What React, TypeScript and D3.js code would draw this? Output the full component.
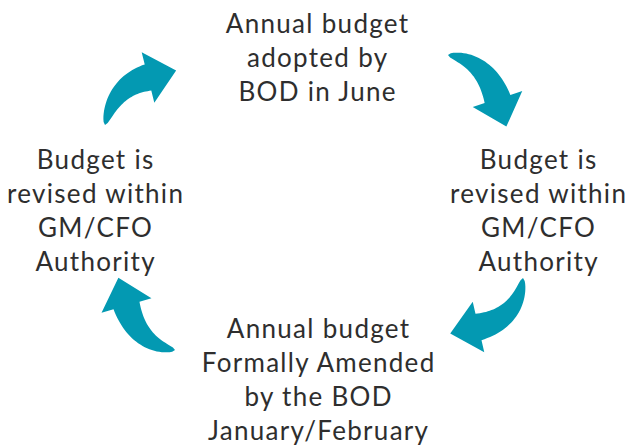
import React from "react";
import * as d3 from "d3";

const WIDTH = 628;
const HEIGHT = 445;

const topLines = ["Annual budget", "adopted by", "BOD in June"];
const rightLines = ["Budget is", "revised within", "GM/CFO", "Authority"];
const bottomLines = ["Annual budget", "Formally Amended", "by the BOD", "January/February"];
const leftLines = ["Budget is", "revised within", "GM/CFO", "Authority"];

// Arrow geometry: tail, bend control, head base centre
const arrowTails: [number, number][] = [[448, 55], [523, 278], [175, 350], [105, 125]];
const arrowControls: [number, number][] = [[485, 60], [518, 318], [138, 345], [114, 86]];
const arrowBases: [number, number][] = [[497.5, 99], [478.5, 327], [126.5, 305.5], [148, 77.5]];

const TEAL = "#0399b2";
const INK = "#2e2e2e";
const FONT = "Lato, 'Noto Sans', sans-serif";
const FS = 26;
const LH = 34;
const LS = 1.3;

function arrowPath(T: [number, number], C: [number, number], B: [number, number]) {
  const W = 27, HW = 52, HL = 29;
  const n = 30;
  const left: [number, number][] = [];
  const right: [number, number][] = [];
  let endN: [number, number] = [0, 0];
  let endD: [number, number] = [0, 0];
  for (let i = 0; i <= n; i++) {
    const t = i / n;
    const x = (1 - t) * (1 - t) * T[0] + 2 * (1 - t) * t * C[0] + t * t * B[0];
    const y = (1 - t) * (1 - t) * T[1] + 2 * (1 - t) * t * C[1] + t * t * B[1];
    let dx = 2 * (1 - t) * (C[0] - T[0]) + 2 * t * (B[0] - C[0]);
    let dy = 2 * (1 - t) * (C[1] - T[1]) + 2 * t * (B[1] - C[1]);
    const len = Math.hypot(dx, dy) || 1;
    dx /= len; dy /= len;
    const nx = -dy, ny = dx;
    const w = (W / 2) * Math.pow(t, 0.55);
    left.push([x + nx * w, y + ny * w]);
    right.push([x - nx * w, y - ny * w]);
    if (i === n) { endN = [nx, ny]; endD = [dx, dy]; }
  }
  const pts: [number, number][] = [
    ...left,
    [B[0] + endN[0] * HW / 2, B[1] + endN[1] * HW / 2],
    [B[0] + endD[0] * HL, B[1] + endD[1] * HL],
    [B[0] - endN[0] * HW / 2, B[1] - endN[1] * HW / 2],
    ...right.reverse(),
  ];
  const line = d3.line<[number, number]>().x(d => d[0]).y(d => d[1]);
  return line(pts) + "Z";
}

function Block({ lines, x, y }: { lines: string[]; x: number; y: number }) {
  return (
    <g>
      {lines.map((l, i) => (
        <text key={i} x={x + LS / 2} y={y + i * LH} textAnchor="middle" fontFamily={FONT} fontSize={FS}
          letterSpacing={LS} fill={INK}>
          {l}
        </text>
      ))}
    </g>
  );
}

export default function App() {
  return (
    <svg width={WIDTH} height={HEIGHT} style={{ position: "absolute", left: 0, top: 0, background: "#fff" }}>
      <Block lines={topLines} x={317} y={33} />
      <Block lines={rightLines} x={538} y={169} />
      <Block lines={bottomLines} x={318} y={338} />
      <Block lines={leftLines} x={95} y={169} />
      {arrowTails.map((t, i) => (
        <path key={i} d={arrowPath(t, arrowControls[i], arrowBases[i])} fill={TEAL} />
      ))}
    </svg>
  );
}
